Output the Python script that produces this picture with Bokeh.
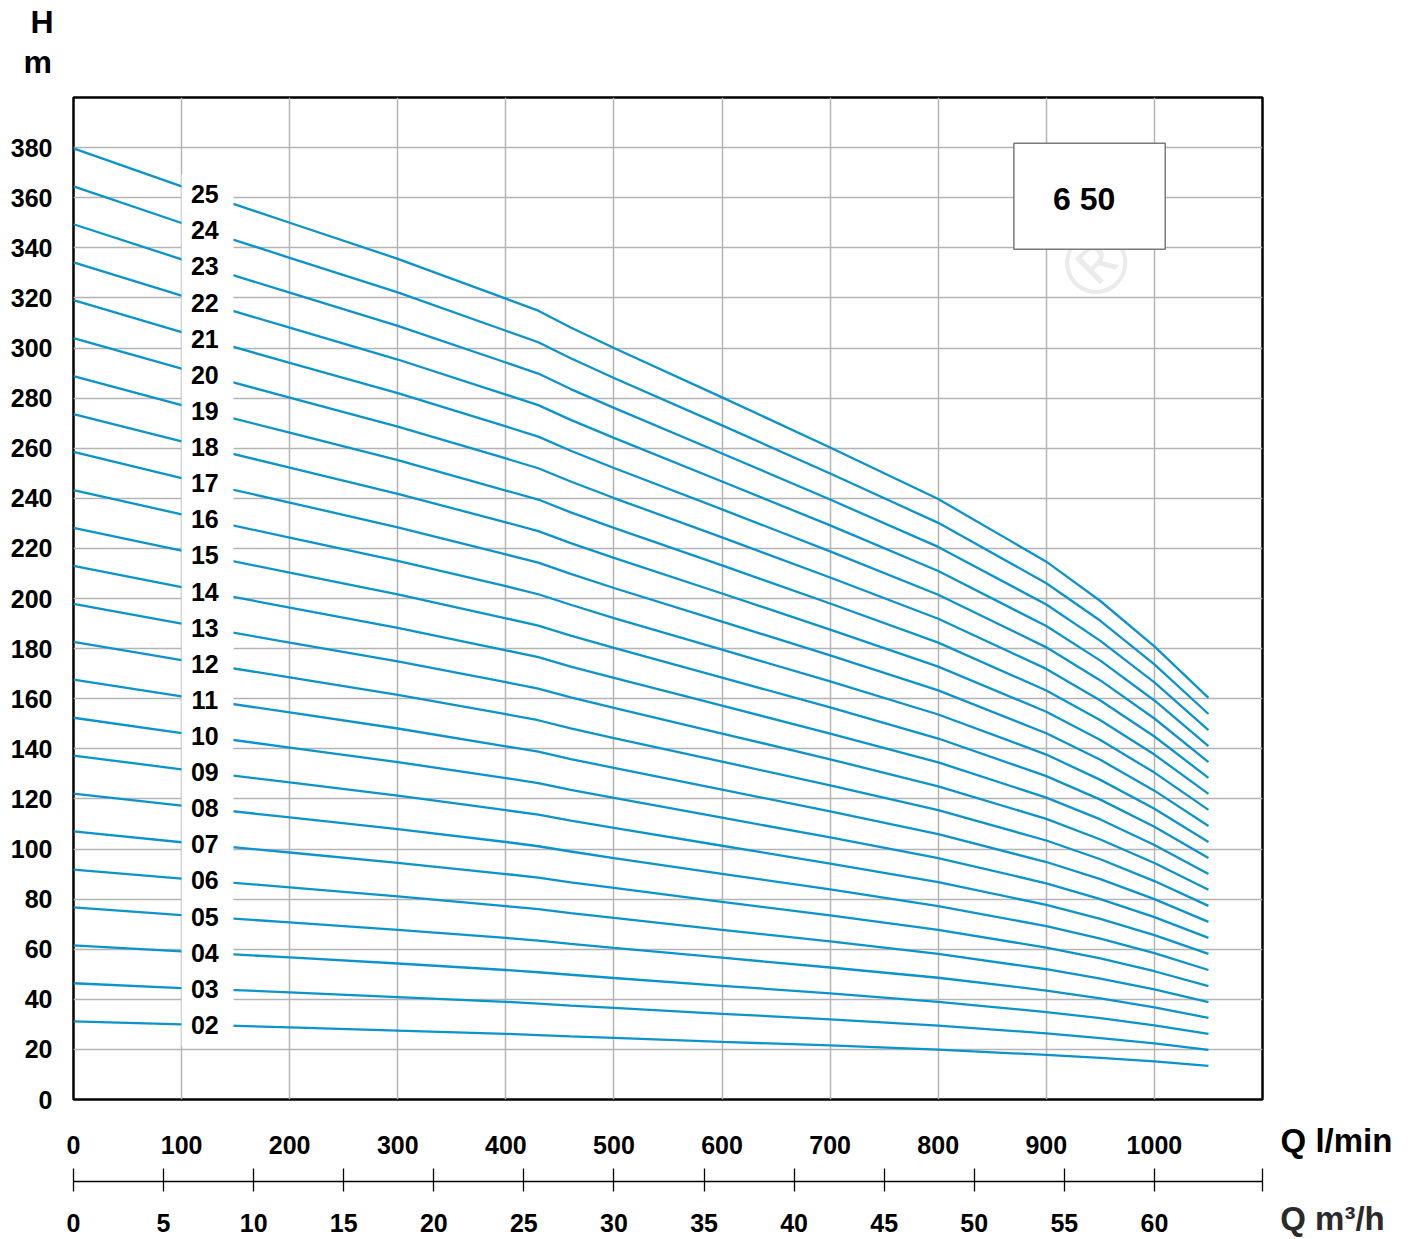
from bokeh.plotting import figure
from bokeh.layouts import row
from bokeh.models import Range1d, LinearAxis, FixedTicker, Title, ColumnDataSource
from bokeh.embed import file_html
from bokeh.resources import INLINE
from bokeh.core.properties import value
import numpy as np

# Flow rate points (l/min) at which each curve is tabulated
flow_lpm = [0, 100, 200, 300, 400, 430, 460, 500, 600, 700, 800, 900, 950, 1000, 1050]

# Head (m) per number of stages
h02 = [31.2, 30.0, 28.8, 27.5, 26.2, 25.7, 25.2, 24.6, 23.0, 21.6, 19.9, 17.8, 16.6, 15.2, 13.4]
h03 = [46.4, 44.5, 42.8, 40.9, 39.0, 38.3, 37.5, 36.6, 34.2, 32.0, 29.5, 26.4, 24.5, 22.4, 19.8]
h04 = [61.5, 59.1, 56.7, 54.3, 51.7, 50.8, 49.8, 48.5, 45.4, 42.4, 39.0, 34.9, 32.5, 29.6, 26.2]
h05 = [76.7, 73.6, 70.7, 67.7, 64.5, 63.4, 62.1, 60.5, 56.6, 52.7, 48.6, 43.5, 40.4, 36.8, 32.6]
h06 = [91.8, 88.2, 84.7, 81.1, 77.2, 76.0, 74.4, 72.5, 67.7, 63.1, 58.1, 52.0, 48.3, 44.0, 38.9]
h07 = [107.0, 102.7, 98.6, 94.5, 90.0, 88.6, 86.7, 84.5, 78.9, 73.5, 67.7, 60.6, 56.3, 51.2, 45.3]
h08 = [122.1, 117.3, 112.6, 107.9, 102.8, 101.1, 99.0, 96.4, 90.1, 83.9, 77.2, 69.2, 64.2, 58.4, 51.7]
h09 = [137.3, 131.8, 126.6, 121.3, 115.5, 113.7, 111.3, 108.4, 101.3, 94.2, 86.8, 77.7, 72.1, 65.6, 58.1]
h10 = [152.4, 146.3, 140.5, 134.7, 128.3, 126.3, 123.6, 120.4, 112.5, 104.6, 96.4, 86.3, 80.0, 72.8, 64.5]
h11 = [167.6, 160.9, 154.5, 148.1, 141.0, 138.9, 135.9, 132.4, 123.7, 115.0, 105.9, 94.8, 88.0, 80.0, 70.9]
h12 = [182.7, 175.4, 168.5, 161.5, 153.8, 151.4, 148.2, 144.3, 134.9, 125.4, 115.5, 103.4, 95.9, 87.2, 77.3]
h13 = [197.9, 190.0, 182.4, 174.9, 166.6, 164.0, 160.5, 156.3, 146.1, 135.8, 125.0, 112.0, 103.8, 94.4, 83.7]
h14 = [213.0, 204.5, 196.4, 188.3, 179.3, 176.6, 172.8, 168.3, 157.2, 146.1, 134.6, 120.5, 111.8, 101.6, 90.0]
h15 = [228.2, 219.1, 210.3, 201.6, 192.1, 189.2, 185.2, 180.3, 168.4, 156.5, 144.1, 129.1, 119.7, 108.9, 96.4]
h16 = [243.3, 233.6, 224.3, 215.0, 204.9, 201.7, 197.5, 192.2, 179.6, 166.9, 153.7, 137.7, 127.6, 116.1, 102.8]
h17 = [258.5, 248.1, 238.3, 228.4, 217.6, 214.3, 209.8, 204.2, 190.8, 177.3, 163.3, 146.2, 135.6, 123.3, 109.2]
h18 = [273.6, 262.7, 252.2, 241.8, 230.4, 226.9, 222.1, 216.2, 202.0, 187.6, 172.8, 154.8, 143.5, 130.5, 115.6]
h19 = [288.8, 277.2, 266.2, 255.2, 243.1, 239.5, 234.4, 228.2, 213.2, 198.0, 182.4, 163.3, 151.4, 137.7, 122.0]
h20 = [303.9, 291.8, 280.2, 268.6, 255.9, 252.0, 246.7, 240.1, 224.4, 208.4, 191.9, 171.9, 159.3, 144.9, 128.4]
h21 = [319.1, 306.3, 294.1, 282.0, 268.7, 264.6, 259.0, 252.1, 235.6, 218.8, 201.5, 180.5, 167.3, 152.1, 134.7]
h22 = [334.2, 320.9, 308.1, 295.4, 281.4, 277.2, 271.3, 264.1, 246.7, 229.2, 211.0, 189.0, 175.2, 159.3, 141.1]
h23 = [349.4, 335.4, 322.1, 308.8, 294.2, 289.8, 283.6, 276.1, 257.9, 239.5, 220.6, 197.6, 183.1, 166.5, 147.5]
h24 = [364.5, 349.9, 336.0, 322.2, 306.9, 302.3, 295.9, 288.0, 269.1, 249.9, 230.2, 206.1, 191.1, 173.7, 153.9]
h25 = [379.7, 364.5, 350.0, 335.6, 319.7, 314.9, 308.2, 300.0, 280.3, 260.3, 239.7, 214.7, 199.0, 180.9, 160.3]

stage_names = ["02", "03", "04", "05", "06", "07", "08", "09", "10", "11", "12", "13",
               "14", "15", "16", "17", "18", "19", "20", "21", "22", "23", "24", "25"]
stage_heads = [h02, h03, h04, h05, h06, h07, h08, h09, h10, h11, h12, h13,
               h14, h15, h16, h17, h18, h19, h20, h21, h22, h23, h24, h25]

head_ticks = list(range(0, 381, 20))
flow_ticks = list(range(0, 1001, 100))
m3h_ticks = [0, 5, 10, 15, 20, 25, 30, 35, 40, 45, 50, 55, 60]
model_name = "6 50"
flow_unit_lpm = "Q l/min"
flow_unit_m3h = "Q m\u00b3/h"

FLOW_MAX = 1100
HEAD_MAX = 400
M3H_MAX = 66
CURVE = "#0b94cc"
GRID = "#b4b4b4"
FONT = "Liberation Sans"
FRAME_W, FRAME_H = 1189, 1002
BORDER_TOP = 97

p = figure(frame_width=FRAME_W, frame_height=FRAME_H,
           x_range=Range1d(0, FLOW_MAX), y_range=Range1d(0, HEAD_MAX),
           output_backend="svg", toolbar_location=None, title_location=None,
           min_border_left=73, min_border_right=4, min_border_top=BORDER_TOP, min_border_bottom=0)
p.background_fill_color = "white"
p.border_fill_color = "white"
p.outline_line_color = "black"
p.outline_line_width = 2.5

# grid
p.xgrid.ticker = FixedTicker(ticks=flow_ticks)
p.ygrid.ticker = FixedTicker(ticks=head_ticks)
for g in (p.xgrid, p.ygrid):
    g.grid_line_color = GRID
    g.grid_line_width = 1.5


def style_labels(ax, size="25px", color="black"):
    ax.major_label_text_font = FONT
    ax.major_label_text_font_style = "bold"
    ax.major_label_text_font_size = size
    ax.major_label_text_color = color
    ax.minor_tick_line_color = None


def bare(ax):
    ax.axis_line_color = None
    ax.major_tick_line_color = None
    ax.major_tick_out = 0
    ax.major_tick_in = 0


# left axis (head)
ya = p.yaxis[0]
ya.ticker = FixedTicker(ticks=head_ticks)
bare(ya)
ya.major_label_standoff = 21
style_labels(ya)

# bottom axis (l/min)
xa = p.xaxis[0]
xa.ticker = FixedTicker(ticks=flow_ticks)
bare(xa)
xa.major_label_standoff = 36
style_labels(xa)
xa.axis_label = "\u00a0"
xa.axis_label_text_font_size = "10px"
xa.axis_label_standoff = 11

# second bottom axis (m3/h)
p.extra_x_ranges = {"m3h": Range1d(0, M3H_MAX)}
ax2 = LinearAxis(x_range_name="m3h",
                 ticker=FixedTicker(ticks=m3h_ticks + [M3H_MAX]),
                 major_label_overrides={M3H_MAX: ""})
ax2.axis_line_color = "black"
ax2.axis_line_width = 1.3
ax2.major_tick_line_color = "black"
ax2.major_tick_line_width = 1.3
ax2.major_tick_in = 13
ax2.major_tick_out = 10
ax2.major_label_standoff = 22
style_labels(ax2)
ax2.axis_label = "\u00a0"
ax2.axis_label_text_font_size = "2px"
ax2.axis_label_standoff = 0
p.add_layout(ax2, "below")

# performance curves
for heads in stage_heads:
    p.line(flow_lpm, heads, line_color=CURVE, line_width=2.3)

# label band and stage numbers
label_q = 121.5
p.quad(left=100, right=148, bottom=21.5, top=369.4, fill_color="white", line_color=None)
lab = ColumnDataSource(dict(
    x=[label_q] * len(stage_names),
    y=[float(np.interp(label_q, flow_lpm, h)) for h in stage_heads],
    t=stage_names))
p.text("x", "y", text="t", source=lab, text_align="center", text_baseline="middle",
       text_font=value(FONT), text_font_style="bold", text_font_size="25px", text_color="black")

# faint registered mark
p.text(x=[946], y=[334], text=["\u00ae"], text_align="center", text_baseline="middle",
       angle=0.78, text_font=value(FONT), text_font_size="88px", text_color="#ebebeb")

# model box
p.quad(left=870, right=1010, bottom=339.4, top=381.7, fill_color="white",
       line_color="#7a7a7a", line_width=1.5)
p.text(x=[935], y=[359.5], text=[model_name], text_align="center", text_baseline="middle",
       text_font=value(FONT), text_font_style="bold", text_font_size="32px", text_color="black")

# head axis title, stacked above the frame (first added sits nearest)
p.add_layout(Title(text="m", align="left", offset=-50, standoff=35, text_color="black",
                   text_font=FONT, text_font_style="bold", text_font_size="32px"), "above")
p.add_layout(Title(text="H", align="left", offset=-43, standoff=-30, text_color="black",
                   text_font=FONT, text_font_style="bold", text_font_size="32px"), "above")

# flow unit captions beside the two flow scales
side = figure(frame_width=149, frame_height=FRAME_H, x_range=Range1d(0, 149), y_range=Range1d(0, 1),
              output_backend="svg", toolbar_location=None, title_location=None,
              x_axis_location=None, y_axis_location=None,
              min_border_left=0, min_border_right=0, min_border_top=BORDER_TOP, min_border_bottom=0)
side.grid.visible = False
side.outline_line_color = None
side.background_fill_color = "white"
side.border_fill_color = "white"

cap1 = LinearAxis(ticker=FixedTicker(ticks=[70]), major_label_overrides={70: flow_unit_lpm})
bare(cap1)
cap1.major_label_standoff = 22
style_labels(cap1, size="33px")
side.add_layout(cap1, "below")

cap2 = LinearAxis(ticker=FixedTicker(ticks=[66]), major_label_overrides={66: flow_unit_m3h})
bare(cap2)
cap2.major_label_standoff = 38
style_labels(cap2, size="33px", color="#2a2a2a")
side.add_layout(cap2, "below")

layout = row(p, side)
open("out.html", "w").write(file_html(layout, INLINE))
